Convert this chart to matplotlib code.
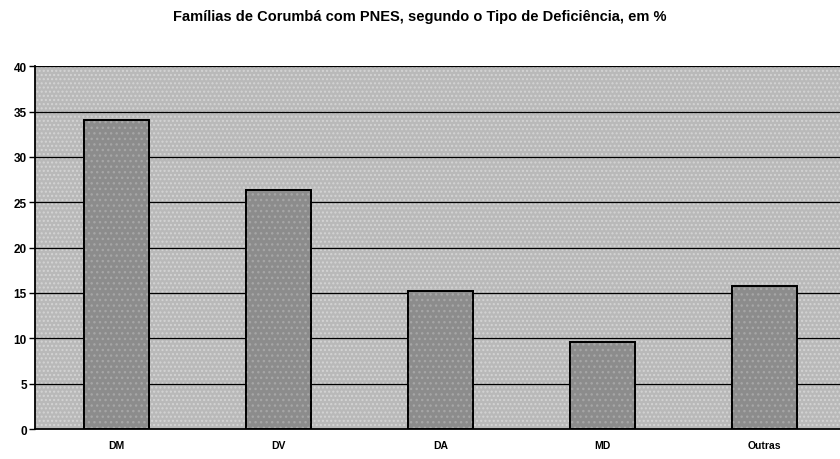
import matplotlib.pyplot as plt
import numpy as np

plt.rcParams['font.family'] = ['Liberation Sans', 'DejaVu Sans']

categorias = ['DM', 'DV', 'DA', 'MD', 'Outras']
percentuais = [34.1, 26.3, 15.2, 9.6, 15.8]
yticks = [0, 5, 10, 15, 20, 25, 30, 35, 40]

fig = plt.figure(figsize=(8.4, 4.6), dpi=100)
fig.patch.set_facecolor('white')
ax = fig.add_axes([0.042, 0.065, 0.965, 0.789])

x = np.arange(len(categorias))
ax.set_facecolor('#b9b9b9')
# textura do fundo
ax.add_patch(plt.Rectangle((0, 0), 1, 1, transform=ax.transAxes, facecolor='none',
                           edgecolor='#d4d4d4', hatch='....', lw=0, zorder=0.5))
for t in yticks[1:]:
    ax.axhline(t, color='black', lw=0.9, zorder=1)

ax.bar(x, percentuais, width=0.4, color='#8c8c8c', edgecolor='black', lw=1.3, zorder=2)
# textura das barras
ax.bar(x, percentuais, width=0.4, color='none', edgecolor='#a6a6a6', hatch='...', lw=0, zorder=2.5)
ax.bar(x, percentuais, width=0.4, color='none', edgecolor='black', lw=1.3, zorder=3)

ax.set_xlim(-0.5, len(categorias) - 0.5)
ax.set_ylim(0, 40)
ax.set_yticks(yticks)
ax.set_yticklabels([str(t) for t in yticks], fontsize=8.5, fontweight='bold')
ax.set_xticks(x)
ax.set_xticklabels(categorias, fontsize=7.5, fontweight='bold')
ax.tick_params(axis='x', length=0, pad=8)
ax.tick_params(axis='y', length=4, width=1, direction='out', pad=2)
for s in ['top', 'right']:
    ax.spines[s].set_visible(False)
ax.spines['left'].set_linewidth(1.3)
ax.spines['bottom'].set_linewidth(1.3)

fig.text(0.5, 0.962, 'Famílias de Corumbá com PNES, segundo o Tipo de Deficiência, em %',
         ha='center', va='center', fontsize=10.5, fontweight='bold')

fig.savefig('out.png', dpi=100)
